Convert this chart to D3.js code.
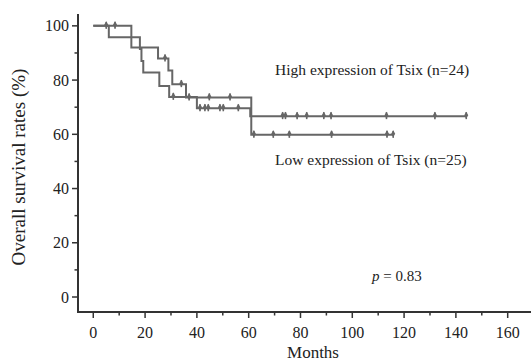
<!DOCTYPE html>
<html><head><meta charset="utf-8">
<script src="https://cdn.jsdelivr.net/npm/d3@7"></script>
<style>
html,body{margin:0;padding:0;background:#fff;}
text{font-family:"Liberation Serif","Times New Roman",serif;fill:#222;}
</style></head>
<body>
<svg id="chart" width="531" height="361"></svg>
<script>
// Step curves: [month, survival %]
const lowSteps = [[0,100],[14.7,92],[25,88],[29,83.5],[30.5,78.5],[35.8,73.6],[61,59.8]];
const lowEnd = 116;
const lowCensor = [5,8.4,27.7,34,37,44.8,52.8,62,69.5,75.7,92,113.4,115.8];

const highSteps = [[0,100],[6,95.8],[18,91.5],[18.6,87],[19.3,82.8],[25.5,77.8],[29.3,73.8],[40,69.6],[60.6,66.7]];
const highEnd = 144;
const highCensor = [30.9,41.2,43.1,44.4,48.9,50.2,56,73.1,74.2,78.7,82.4,89,91.8,113.2,131.9,144];

const xTicks = [0,20,40,60,80,100,120,140,160];
const xMinor = [10,30,50,70,90,110,130,150];
const yTicks = [0,20,40,60,80,100];
const yMinor = [10,30,50,70,90];

const svg = d3.select("#chart");
const x = d3.scaleLinear().domain([-5.9, 169]).range([78, 531]);
const y = d3.scaleLinear().domain([-5.53, 104]).range([312, 15]);

const axisColor = "#333";
const lineColor = "#666";

// axes
const gx = svg.append("g").attr("transform","translate(0,312)");
gx.append("line").attr("x1",78).attr("x2",531).attr("stroke",axisColor).attr("stroke-width",2);
gx.selectAll(".mt").data(xTicks).join("line").attr("x1",d=>x(d)).attr("x2",d=>x(d)).attr("y1",0).attr("y2",6).attr("stroke",axisColor).attr("stroke-width",1.5);
gx.selectAll(".mn").data(xMinor).join("line").attr("class","mn").attr("x1",d=>x(d)).attr("x2",d=>x(d)).attr("y1",0).attr("y2",3.5).attr("stroke",axisColor).attr("stroke-width",1.5);
gx.selectAll("text").data(xTicks).join("text").attr("x",d=>x(d)).attr("y",26).attr("text-anchor","middle").attr("font-size",16).text(d=>d);

const gy = svg.append("g").attr("transform","translate(78,0)");
gy.append("line").attr("y1",14).attr("y2",313).attr("stroke",axisColor).attr("stroke-width",2);
gy.selectAll(".mt").data(yTicks).join("line").attr("y1",d=>y(d)).attr("y2",d=>y(d)).attr("x1",0).attr("x2",-6).attr("stroke",axisColor).attr("stroke-width",1.5);
gy.selectAll(".mn").data(yMinor).join("line").attr("class","mn").attr("y1",d=>y(d)).attr("y2",d=>y(d)).attr("x1",0).attr("x2",-3.5).attr("stroke",axisColor).attr("stroke-width",1.5);
gy.selectAll("text").data(yTicks).join("text").attr("x",-9).attr("y",d=>y(d)).attr("dy","0.35em").attr("text-anchor","end").attr("font-size",16).text(d=>d);

svg.append("text").attr("x",313).attr("y",358).attr("text-anchor","middle").attr("font-size",17).text("Months");
svg.append("text").attr("transform","translate(25,167) rotate(-90)").attr("text-anchor","middle").attr("font-size",19).text("Overall survival rates (%)");

function survAt(steps,t){let s=steps[0][1];for(const [tt,v] of steps){if(tt<=t)s=v;}return s;}
function drawCurve(steps,end,censor){
  const pts=[];
  steps.forEach((p,i)=>{
    if(i>0) pts.push([p[0],steps[i-1][1]]);
    pts.push(p);
  });
  pts.push([end,steps[steps.length-1][1]]);
  svg.append("path").attr("d",d3.line().x(d=>x(d[0])).y(d=>y(d[1]))(pts))
    .attr("fill","none").attr("stroke",lineColor).attr("stroke-width",2);
  const g=svg.append("g");
  censor.forEach(t=>{
    const cx=x(t), cy=y(survAt(steps,t));
    g.append("line").attr("x1",cx).attr("x2",cx).attr("y1",cy-4).attr("y2",cy+3).attr("stroke",lineColor).attr("stroke-width",1.6);
    g.append("path").attr("d",d3.symbol(d3.symbolDiamond,14)()).attr("transform",`translate(${cx},${cy-1})`).attr("fill",lineColor);
  });
}
drawCurve(highSteps,highEnd,highCensor);
drawCurve(lowSteps,lowEnd,lowCensor);

svg.append("text").attr("x",275).attr("y",75).attr("font-size",15.5).text("High expression of Tsix (n=24)");
svg.append("text").attr("x",275).attr("y",165).attr("font-size",15.5).text("Low expression of Tsix (n=25)");
const pt = svg.append("text").attr("x",372).attr("y",281).attr("font-size",15).attr("font-size",15);
pt.append("tspan").attr("font-style","italic").text("p");
pt.append("tspan").text(" = 0.83");
</script>
</body></html>
